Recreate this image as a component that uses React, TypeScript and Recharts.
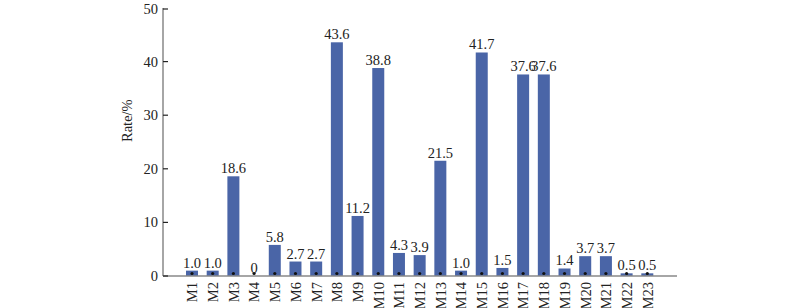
import { Bar, BarChart, LabelList, XAxis, YAxis } from "recharts";

const samples = [
  "M1", "M2", "M3", "M4", "M5", "M6", "M7", "M8", "M9", "M10", "M11", "M12",
  "M13", "M14", "M15", "M16", "M17", "M18", "M19", "M20", "M21", "M22", "M23",
];
const rates = [
  1.0, 1.0, 18.6, 0, 5.8, 2.7, 2.7, 43.6, 11.2, 38.8, 4.3, 3.9, 21.5, 1.0, 41.7,
  1.5, 37.6, 37.6, 1.4, 3.7, 3.7, 0.5, 0.5,
];
const yTicks = [0, 10, 20, 30, 40, 50];

const data = samples.map((name, i) => ({ name, rate: rates[i] }));

const font = '"Liberation Serif", "Times New Roman", serif';

// bar with the small black marker at its foot
const BarWithDot = (props: any) => {
  const { x, y, width, height, fill } = props;
  return (
    <g>
      {height > 0 && <rect x={x} y={y} width={width} height={height} fill={fill} />}
      <circle cx={x + width / 2} cy={y + height - 2.5} r={1.6} fill="#111" />
    </g>
  );
};

const YTick = (props: any) => {
  const { x, y, payload } = props;
  return (
    <g>
      <text x={x} y={y} dy={5} textAnchor="end" fontSize={14.5} fill="#222" fontFamily={font}>
        {payload.value}
      </text>
      <line x1={x + 5} x2={x + 10} y1={y} y2={y} stroke="#222" strokeWidth={1.2} />
    </g>
  );
};

const XTick = (props: any) => {
  const { x, y, payload } = props;
  return (
    <text
      x={x}
      y={y}
      dy={4}
      transform={`rotate(-90 ${x} ${y + 4})`}
      textAnchor="end"
      dominantBaseline="central"
      fontSize={14.5}
      fill="#222"
      fontFamily={font}
    >
      {payload.value}
    </text>
  );
};

export default function App() {
  return (
    <div style={{ position: "absolute", left: 0, top: 0, background: "#fff" }}>
      <BarChart
        width={800}
        height={308}
        data={data}
        margin={{ top: 8, right: 123, bottom: 0, left: 0 }}
      >
        <XAxis
          dataKey="name"
          height={32}
          interval={0}
          padding={{ left: 19, right: 19 }}
          tickLine={false}
          stroke="#888"
          strokeWidth={1.5}
          tick={<XTick />}
          tickSize={0}
        />
        <YAxis
          width={163}
          domain={[0, 50]}
          ticks={yTicks}
          tickLine={false}
          tickSize={0}
          tickMargin={5}
          stroke="#888"
          strokeWidth={1.5}
          tick={<YTick />}
          label={{
            value: "Rate/%",
            angle: -90,
            position: "insideLeft",
            offset: 0,
            dx: 127,
            fontSize: 14.5,
            fill: "#222",
            fontFamily: font,
          }}
        />
        <Bar
          dataKey="rate"
          fill="#4a65a7"
          barSize={12}
          shape={<BarWithDot />}
          isAnimationActive={false}
        >
          <LabelList
            dataKey="rate"
            position="top"
            offset={3}
            formatter={(v: any) => (v === 0 ? "0" : Number(v).toFixed(1))}
            fontSize={14.5}
            fill="#222"
            fontFamily={font}
          />
        </Bar>
      </BarChart>
    </div>
  );
}
